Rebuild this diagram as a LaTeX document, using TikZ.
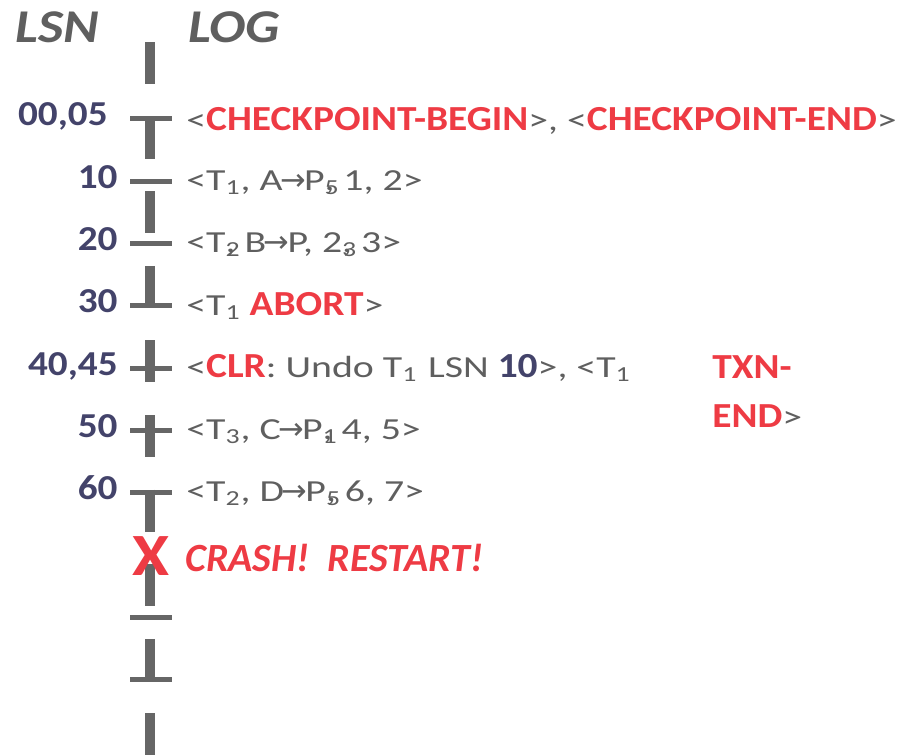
\documentclass[tikz,border=0pt]{standalone}
\usepackage{fontspec}
\setmainfont{Carlito}[UprightFeatures={FakeStretch=1.3},
                      BoldFeatures={FakeStretch=1.12}]
\newfontfamily\headfont{Carlito}[FakeStretch=1.15]
\newfontfamily\arrowfont{DejaVu Sans}
\definecolor{lsnnavy}{HTML}{43436A}
\definecolor{loggray}{HTML}{5F5F5F}
\definecolor{logred}{HTML}{EE3B44}
\definecolor{barcolor}{HTML}{666666}
\newcommand{\kw}[1]{{\fontsize{17.6}{20}\selectfont\textcolor{logred}{\textbf{#1}}}}
\newcommand{\lsnref}[1]{{\fontsize{17.6}{20}\selectfont\textcolor{lsnnavy}{\textbf{#1}}}}
\newcommand{\pto}{\kern-0.08em{\arrowfont →}\kern-0.06em}
\newcommand{\sbo}[1]{\rlap{\textsubscript{#1}}}
\tikzset{
  timeline/.style={draw=barcolor, line width=5pt, dash pattern=on 21pt off 16.3pt},
  tickmark/.style={draw=barcolor, line width=2.5pt},
  header/.style={font=\fontsize{23.5}{26}\selectfont\headfont\bfseries\itshape, text=loggray,
                 inner sep=0pt, anchor=base west},
  lsnlabel/.style={font=\fontsize{17.5}{20}\selectfont\bfseries, text=lsnnavy,
                   inner sep=0pt, anchor=base east},
  logentry/.style={font=\fontsize{15.3}{17}\selectfont, text=loggray,
                   inner sep=0pt, anchor=base west},
  crashtxt/.style={font=\fontsize{20}{24}\selectfont\bfseries\itshape, text=logred,
                   inner sep=0pt, anchor=base west},
}
\begin{document}
\begin{tikzpicture}[x=0.5pt, y=-0.5pt]
    \useasboundingbox (0,0) rectangle (907,756);
    \node[header] (lsnhead) at (15,42) {LSN};
    \node[header] (loghead) at (188,42) {LOG};
    % time line
    \coordinate (linetop) at (150,42);
    \coordinate (linebot) at (150,756);
    \draw[timeline] (linetop) -- (linebot);
    \foreach \y in {118,181,243,305,368,430,492,617,679}
      \draw[tickmark] (130,\y) -- (172,\y);
    % lsn labels
    \node[lsnlabel] (lsn0) at (108,125) {00,05};
    \node[lsnlabel] (lsn1) at (118,188) {10};
    \node[lsnlabel] (lsn2) at (118,250) {20};
    \node[lsnlabel] (lsn3) at (118,312) {30};
    \node[lsnlabel] (lsn4) at (118,375) {40,45};
    \node[lsnlabel] (lsn5) at (118,437) {50};
    \node[lsnlabel] (lsn6) at (118,499) {60};
    % log records
    \node[logentry] (rec0) at (186,130) {<\kw{CHECKPOINT-BEGIN}>, <\kw{CHECKPOINT-END}>};
    \node[logentry] (rec1) at (186,190.5) {<T\textsubscript{1}, A\pto P\sbo{5}, 1, 2>};
    \node[logentry] (rec2) at (186,252.5) {<T\sbo{2}, B\pto P, 2\sbo{3}, 3>};
    \node[logentry] (rec3) at (186,315) {<T\textsubscript{1} \kw{ABORT}>};
    \node[logentry] (rec4) at (186,377.5) {<\kw{CLR}: Undo T\textsubscript{1}\kern0.35em LSN \lsnref{10}>, <T\textsubscript{1}};
    \node[logentry] (txn1) at (712,378) {\kw{TXN-}};
    \node[logentry] (txn2) at (712,427) {\kw{END}>};
    \node[logentry] (rec5) at (186,439.5) {<T\textsubscript{3}, C\pto P\sbo{1}, 4, 5>};
    \node[logentry] (rec6) at (186,501.5) {<T\textsubscript{2}, D\pto P\sbo{5}, 6, 7>};
    % crash
    \node[font=\fontsize{30}{30}\selectfont\bfseries, text=logred, inner sep=0pt] (crashx) at (151,556) {X};
    \node[crashtxt] (crash) at (185,571) {CRASH!\ \ RESTART!};
\end{tikzpicture}
\end{document}
